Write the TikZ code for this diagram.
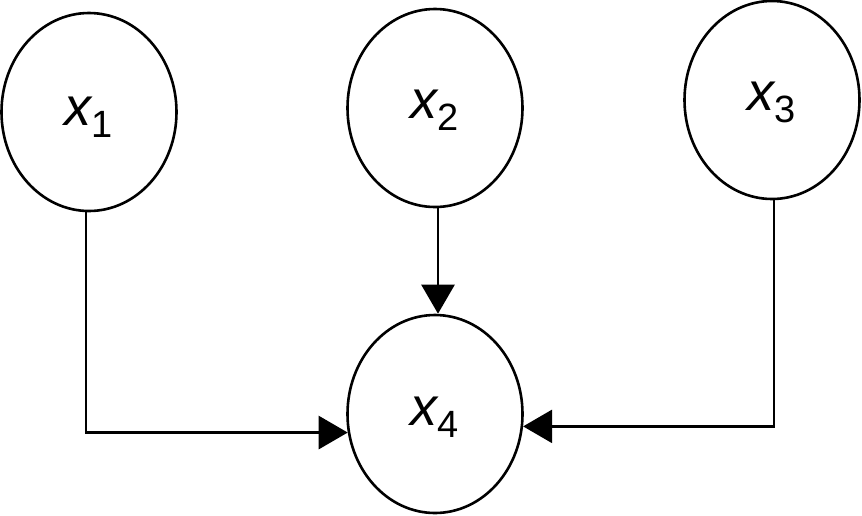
\documentclass[tikz,border=0pt]{standalone}
\usepackage{fontspec}
\setmainfont{Liberation Sans}
\usetikzlibrary{shapes.geometric,arrows.meta}
\newcommand{\varlab}[1]{{\fontsize{54}{54}\selectfont\itshape x}{\fontsize{38}{38}\selectfont\raisebox{-12pt}{#1}}}
\tikzset{
  var/.style={ellipse, draw, line width=2.6pt, minimum width=175pt, minimum height=198pt, inner sep=0pt},
  lab/.style={inner sep=0pt, anchor=base},
  conn/.style={line width=2.6pt, -{Triangle[length=29pt,width=33pt]}}
}
\begin{document}
\begin{tikzpicture}[x=1pt,y=-1pt]
\useasboundingbox (0,0) rectangle (862,515);
\node[var] (x1) at (89,112) {};
\node[var] (x2) at (435,108) {};
\node[var] (x3) at (772,100) {};
\node[var] (x4) at (435,414) {};
\node[lab] (l1) at ([yshift=-13pt]x1.center) {\varlab{1}};
\node[lab] (l2) at ([yshift=-10pt]x2.center) {\varlab{2}};
\node[lab] (l3) at ([yshift=-10pt]x3.center) {\varlab{3}};
\node[lab] (l4) at ([yshift=-11pt]x4.center) {\varlab{4}};
\draw[conn] ([xshift=-3pt]x1.south) |- (x4.192.4);
\draw[conn] ([xshift=3pt]x2.south) -- ([xshift=3pt]x4.north);
\draw[conn] ([xshift=2pt]x3.south) |- (x4.352.8);
\end{tikzpicture}
\end{document}
